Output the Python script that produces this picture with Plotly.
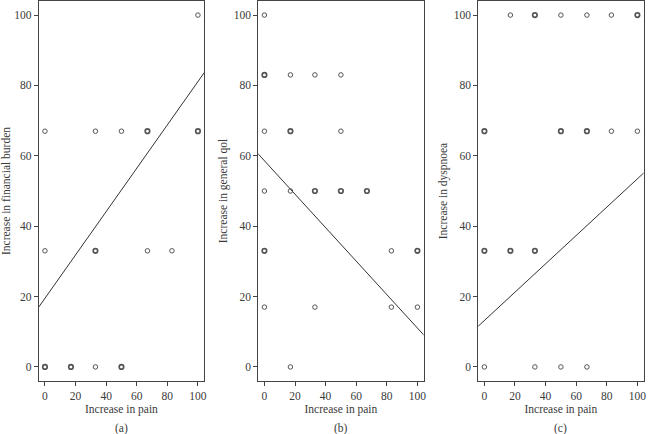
import plotly.graph_objects as go

# ---- data ----
pain_a = [0, 33, 50, 67, 100, 100, 0, 33, 67, 83, 0, 17, 33, 50]
fin_a = [67, 67, 67, 67, 67, 100, 33, 33, 33, 33, 0, 0, 0, 0]
mult_a = [1, 1, 1, 2, 2, 1, 1, 2, 1, 1, 2, 2, 1, 2]
fit_a = (19.5, 0.616)  # intercept, slope

pain_b = [0, 0, 17, 33, 50, 0, 17, 50, 0, 17, 33, 50, 67, 0, 83, 100, 0, 33, 83, 100, 17]
qol_b = [100, 83, 83, 83, 83, 67, 67, 67, 50, 50, 50, 50, 50, 33, 33, 33, 17, 17, 17, 17, 0]
mult_b = [1, 2, 1, 1, 1, 1, 2, 1, 1, 1, 2, 2, 2, 2, 1, 2, 1, 1, 1, 1, 1]
fit_b = (58.6, -0.4755)

pain_c = [17, 33, 50, 67, 83, 100, 0, 50, 67, 83, 100, 0, 17, 33, 0, 33, 50, 67]
dys_c = [100, 100, 100, 100, 100, 100, 67, 67, 67, 67, 67, 33, 33, 33, 0, 0, 0, 0]
mult_c = [1, 2, 1, 1, 1, 2, 2, 2, 2, 1, 1, 2, 2, 2, 1, 1, 1, 1]
fit_c = (13.2, 0.4026)

y_titles = ["Increase in financial burden", "Increase in general qol", "Increase in dyspnoea"]
x_title = "Increase in pain"
panel_labels = ["(a)", "(b)", "(c)"]
ticks = [0, 20, 40, 60, 80, 100]

panels = [(pain_a, fin_a, mult_a, fit_a), (pain_b, qol_b, mult_b, fit_b), (pain_c, dys_c, mult_c, fit_c)]

W, H = 648, 434
box_left = [39, 259.5, 480.5]
box_w = 166
box_top, box_bottom = 1, 381

FONT = "Liberation Serif"
TXT = "#3a3a3a"
LINE = "#444444"

fig = go.Figure()
for i, (xs, ys, m, (b0, b1)) in enumerate(panels):
    ax = "" if i == 0 else str(i + 1)
    fig.add_trace(go.Scatter(
        x=xs, y=ys, mode="markers", xaxis="x" + ax, yaxis="y" + ax,
        marker=dict(symbol="circle-open", size=4.5, color="#555555",
                    line=dict(width=[1.0 if k == 1 else 1.7 for k in m], color="#555555")),
        showlegend=False, hoverinfo="x+y"))
    lx = [-10, 110]
    fig.add_trace(go.Scatter(
        x=lx, y=[b0 + b1 * v for v in lx], mode="lines", xaxis="x" + ax, yaxis="y" + ax,
        line=dict(color="#333333", width=1), showlegend=False, hoverinfo="skip"))

    axis_common = dict(range=[-4, 104], tickvals=ticks, ticks="outside", ticklen=4, tickwidth=1,
                       tickcolor=LINE, showline=True, linecolor=LINE, linewidth=1, mirror=True,
                       showgrid=False, zeroline=False,
                       tickfont=dict(family=FONT, size=11.5, color=TXT))
    xkey = "xaxis" + ax
    ykey = "yaxis" + ax
    fig.update_layout(**{
        xkey: dict(axis_common, domain=[box_left[i] / W, (box_left[i] + box_w) / W],
                   anchor="y" + ax,
                   title=dict(text=x_title, font=dict(family=FONT, size=11.5, color=TXT), standoff=4)),
        ykey: dict(axis_common, domain=[(H - box_bottom) / H, (H - box_top) / H],
                   anchor="x" + ax,
                   title=dict(text=y_titles[i], font=dict(family=FONT, size=11.5, color=TXT), standoff=3)),
    })
    fig.add_annotation(text=panel_labels[i], xref="paper", yref="paper",
                       x=(box_left[i] + box_w / 2) / W, y=(H - 428) / H,
                       showarrow=False, font=dict(family=FONT, size=11.5, color=TXT),
                       xanchor="center", yanchor="middle")

fig.update_layout(width=W, height=H, margin=dict(l=0, r=0, t=0, b=0),
                  plot_bgcolor="white", paper_bgcolor="white")
fig.write_html("out.html", config={"displayModeBar": False},
               post_script="document.body.style.margin='0px';")
